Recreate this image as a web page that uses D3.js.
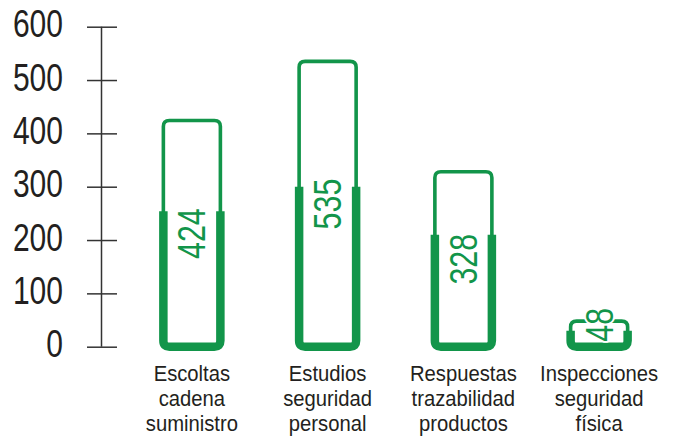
<!DOCTYPE html>
<html>
<head>
<meta charset="utf-8">
<script src="https://cdn.jsdelivr.net/npm/d3@7"></script>
<style>
  html, body { margin: 0; padding: 0; background: #fff; }
  svg { display: block; }
  text { font-family: "Liberation Sans", Arial, sans-serif; }
</style>
</head>
<body>
<svg id="chart" width="673" height="448"></svg>
<script>
// Categories (one label line per array entry)
const categories = [
  ["Escoltas", "cadena", "suministro"],
  ["Estudios", "seguridad", "personal"],
  ["Respuestas", "trazabilidad", "productos"],
  ["Inspecciones", "seguridad", "física"]
];
// Totals shown on each bar
const totals = [424, 535, 328, 48];
// Height reached by the heavy lower band of each bar
const bandLevels = [254, 300, 210, 30];
// Y axis ticks
const yTicks = [0, 100, 200, 300, 400, 500, 600];

const green = "#12954a";
const ink = "#231f20";
const narrow = 0.79;   // horizontal squeeze giving a condensed face

const svg = d3.select("#chart");

const y = d3.scaleLinear().domain([0, 600]).range([346.7, 26.7]);
const x = d3.scaleBand()
  .domain(d3.range(categories.length))
  .range([124, 667])
  .paddingInner(0.58)
  .paddingOuter(0.29);

// Y axis: vertical line with ticks crossing it
const axisX = 101.5;
const yAxis = d3.axisLeft(y)
  .tickValues(yTicks)
  .tickSize(0)
  .tickPadding(0)
  .tickFormat(d3.format("d"));

const ag = svg.append("g").attr("transform", `translate(${axisX},0)`).call(yAxis);
ag.select(".domain").attr("stroke", "#333").attr("stroke-width", 1.5)
  .attr("d", `M0,${y(600)}V${y(0)}`);
ag.selectAll(".tick line")
  .attr("x1", -14.5).attr("x2", 15.5)
  .attr("stroke", "#333").attr("stroke-width", 1.5);
ag.selectAll(".tick text")
  .attr("x", 0)
  .attr("dy", null)
  .attr("y", 10)
  .attr("transform", `translate(-38.5,0) scale(${narrow},1)`)
  .attr("fill", ink)
  .attr("font-size", 38)
  .attr("text-anchor", "end");

// Bars: rounded outline, with a heavier U-shaped lower band
const r = 6;
const bars = svg.append("g").selectAll("g.bar")
  .data(totals.map((v, i) => ({ v, i, band: bandLevels[i] })))
  .join("g").attr("class", "bar");

bars.append("path")
  .attr("fill", "none")
  .attr("stroke", green)
  .attr("stroke-width", 3.6)
  .attr("d", d => {
    const x0 = x(d.i), x1 = x(d.i) + x.bandwidth();
    const t = y(d.v), b = y(0);
    return `M${x0},${b - r}V${t + r}Q${x0},${t} ${x0 + r},${t}H${x1 - r}Q${x1},${t} ${x1},${t + r}V${b - r}Q${x1},${b} ${x1 - r},${b}H${x0 + r}Q${x0},${b} ${x0},${b - r}Z`;
  });

bars.append("path")
  .attr("fill", "none")
  .attr("stroke", green)
  .attr("stroke-width", 8.5)
  .attr("stroke-linecap", "butt")
  .attr("d", d => {
    const x0 = x(d.i), x1 = x(d.i) + x.bandwidth();
    const t = y(Math.min(d.band, d.v)), b = y(0);
    return `M${x0},${t}V${b - r}Q${x0},${b} ${x0 + r},${b}H${x1 - r}Q${x1},${b} ${x1},${b - r}V${t}`;
  });

// Rotated value labels, centred in the bar and kept clear of its base
const labelSize = 38, labelSqueeze = 0.8;
bars.append("text")
  .attr("font-size", labelSize)
  .attr("fill", green)
  .attr("text-anchor", "middle")
  .attr("stroke", "#fff")
  .attr("stroke-width", 4)
  .attr("paint-order", "stroke")
  .attr("stroke-linejoin", "round")
  .attr("transform", d => {
    const cx = x(d.i) + x.bandwidth() / 2;
    const half = 0.556 * labelSize * labelSqueeze * String(d.v).length / 2;
    const cy = Math.min((y(d.v) + y(0)) / 2, y(0) - 5 - half);
    return `translate(${cx + 13.6},${cy}) rotate(-90) scale(${labelSqueeze},1)`;
  })
  .text(d => d.v);

// Category labels under each bar, one text per line
const catG = svg.append("g").selectAll("g")
  .data(categories)
  .join("g")
  .attr("transform", (d, i) => `translate(${x(i) + x.bandwidth() / 2},0)`);
catG.selectAll("text")
  .data(d => d)
  .join("text")
  .attr("font-size", 22.5)
  .attr("fill", ink)
  .attr("text-anchor", "middle")
  .attr("transform", (d, j) => `translate(0,${380.5 + j * 25}) scale(0.9,1)`)
  .text(d => d);
</script>
</body>
</html>
